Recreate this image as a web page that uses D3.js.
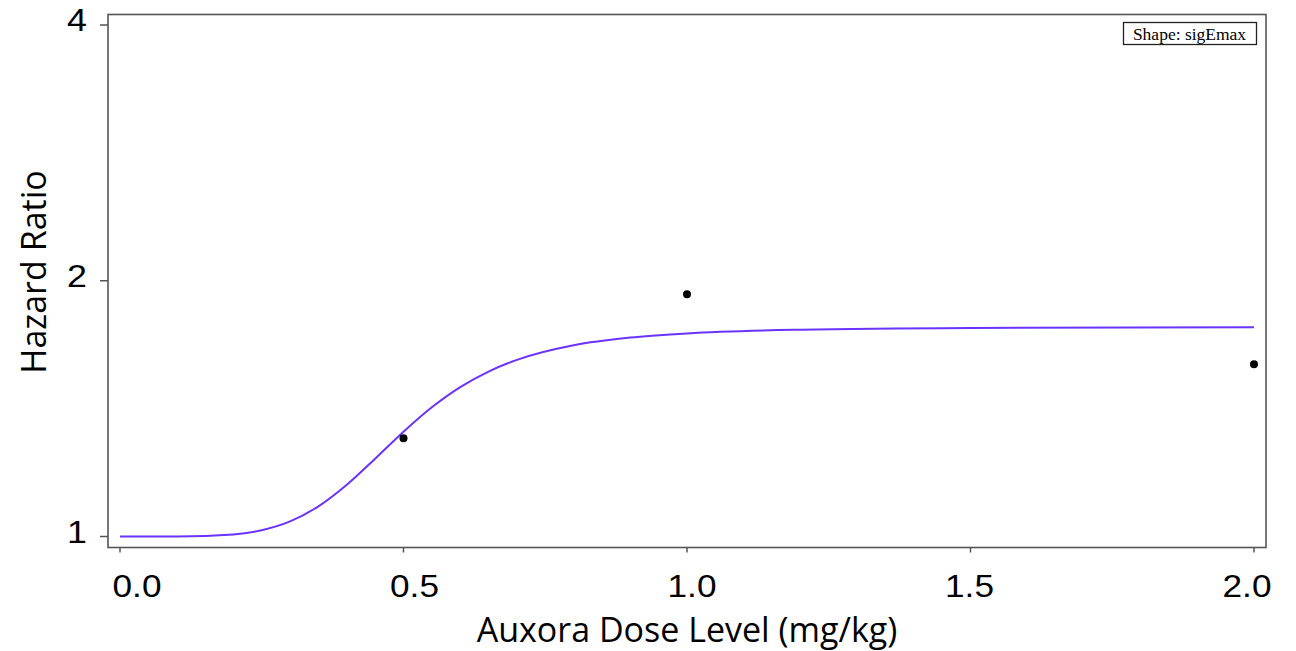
<!DOCTYPE html>
<html>
<head>
<meta charset="utf-8">
<script src="https://cdn.jsdelivr.net/npm/d3@7"></script>
<style>
  body { margin: 0; background: #fff; }
  svg { display: block; }
  .tick-label { font-family: "Liberation Sans", Arial, sans-serif; font-size: 32px; fill: #000; }
  .axis-title { font-family: "Open Sans", sans-serif; font-size: 34px; fill: #000; }
  .legend-text { font-family: "Liberation Serif", "Times New Roman", serif; font-size: 17.5px; fill: #000; }
</style>
</head>
<body>
<svg id="chart" width="1296" height="651"></svg>
<script>
// observed hazard ratios by dose
const doses = [0.5, 1.0, 2.0];
const observedHR = [1.305, 1.928, 1.595];

// fitted sigEmax curve
const curveDose = [0, 0.1, 0.2, 0.25, 0.3, 0.35, 0.4, 0.45, 0.5, 0.55, 0.6, 0.65, 0.7, 0.8, 0.9, 1.0, 1.2, 1.5, 2.0];
const curveHR = [1.0, 1.0002, 1.0057, 1.0173, 1.0418, 1.0851, 1.1504, 1.2347, 1.3285, 1.4193, 1.4992, 1.5638, 1.6139, 1.679, 1.7144, 1.734, 1.7517, 1.76, 1.7631];

const xTicks = [0, 0.5, 1.0, 1.5, 2.0];
const yTicks = [1, 2, 4];

const svg = d3.select("#chart");
const frame = { left: 108, top: 14.5, right: 1266, bottom: 547.5 };

const x = d3.scaleLinear().domain([0, 2]).range([120, 1254]);
const xLabel = d3.scaleLinear().domain([0, 2]).range([137, 1247]);
const y = d3.scaleLog().base(2).domain([1, 4]).range([536.5, 25]);

// plot frame
svg.append("rect")
  .attr("x", frame.left)
  .attr("y", frame.top)
  .attr("width", frame.right - frame.left)
  .attr("height", frame.bottom - frame.top)
  .attr("fill", "none")
  .attr("stroke", "#555")
  .attr("stroke-width", 1.6);

// y axis ticks
const yAxis = svg.append("g");
yAxis.selectAll("line")
  .data(yTicks)
  .join("line")
  .attr("x1", frame.left - 8)
  .attr("x2", frame.left)
  .attr("y1", (d) => y(d))
  .attr("y2", (d) => y(d))
  .attr("stroke", "#555")
  .attr("stroke-width", 1.5);
yAxis.selectAll("text")
  .data(yTicks)
  .join("text")
  .attr("class", "tick-label")
  .attr("transform", (d) => `translate(87,${y(d) - 5}) scale(1.12,1)`)
  .attr("text-anchor", "end")
  .attr("dominant-baseline", "central")
  .text((d) => d);

// x axis ticks
const xAxis = svg.append("g");
xAxis.selectAll("line")
  .data(xTicks)
  .join("line")
  .attr("x1", (d) => x(d))
  .attr("x2", (d) => x(d))
  .attr("y1", frame.bottom)
  .attr("y2", frame.bottom + 5)
  .attr("stroke", "#555")
  .attr("stroke-width", 1.5);
xAxis.selectAll("text")
  .data(xTicks)
  .join("text")
  .attr("class", "tick-label")
  .attr("transform", (d) => `translate(${xLabel(d)},597) scale(1.1,1)`)
  .attr("text-anchor", "middle")
  .text((d) => d3.format(".1f")(d));

// axis titles
svg.append("text")
  .attr("class", "axis-title")
  .attr("x", 687)
  .attr("y", 642)
  .attr("text-anchor", "middle")
  .text("Auxora Dose Level (mg/kg)");

svg.append("text")
  .attr("class", "axis-title")
  .attr("transform", "translate(46,272) rotate(-90)")
  .attr("text-anchor", "middle")
  .text("Hazard Ratio");

// fitted curve
const line = d3.line()
  .x((d, i) => x(curveDose[i]))
  .y((d, i) => y(curveHR[i]))
  .curve(d3.curveMonotoneX);

svg.append("path")
  .datum(curveDose)
  .attr("d", line)
  .attr("fill", "none")
  .attr("stroke", "#6a33ff")
  .attr("stroke-width", 2);

// observed points
svg.append("g")
  .selectAll("circle")
  .data(doses)
  .join("circle")
  .attr("cx", (d) => x(d))
  .attr("cy", (d, i) => y(observedHR[i]))
  .attr("r", 4)
  .attr("fill", "#000");

// legend box
const legend = svg.append("g");
legend.append("rect")
  .attr("x", 1123.5)
  .attr("y", 22.5)
  .attr("width", 133)
  .attr("height", 22)
  .attr("fill", "#fff")
  .attr("stroke", "#222")
  .attr("stroke-width", 1.3);
legend.append("text")
  .attr("class", "legend-text")
  .attr("x", 1189.5)
  .attr("y", 40)
  .attr("text-anchor", "middle")
  .text("Shape: sigEmax");
</script>
</body>
</html>
